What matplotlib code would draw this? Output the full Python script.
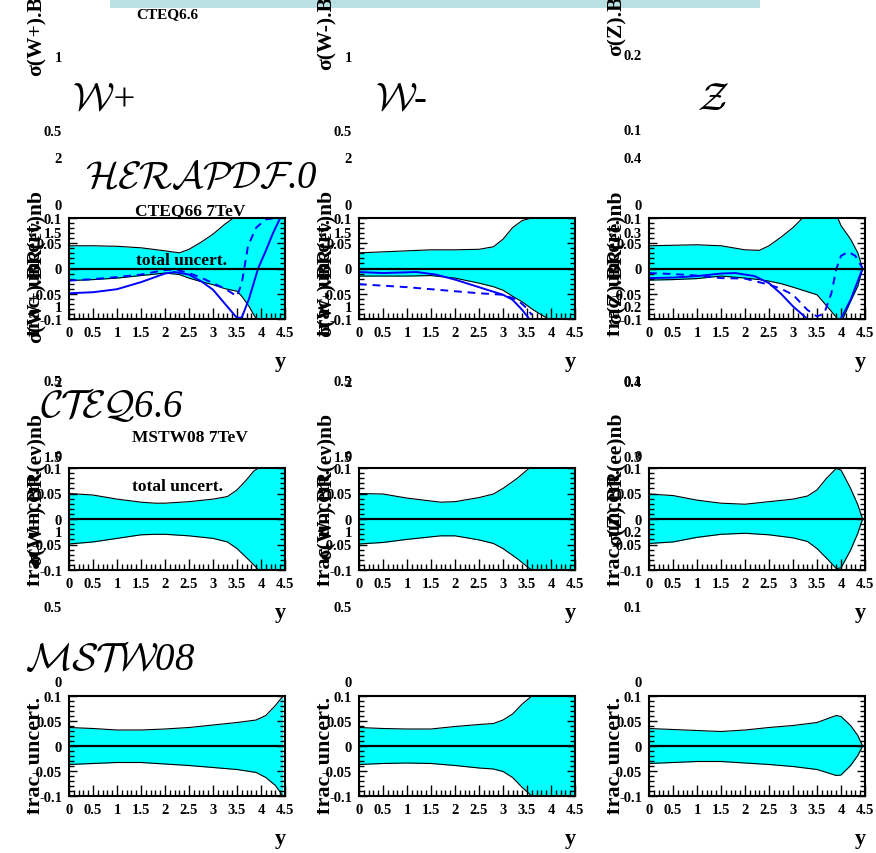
# PDF uncertainty bands on W+, W- and Z rapidity distributions at 7 TeV

import numpy as np
import matplotlib.pyplot as plt
from matplotlib.patches import Rectangle
from matplotlib.transforms import Bbox
from matplotlib.ticker import MultipleLocator, FormatStrFormatter

W, H = 876, 854                                        # canvas size in pixels

plt.rcParams['font.family'] = ['Liberation Serif', 'DejaVu Serif']
plt.rcParams['font.weight'] = 'bold'
plt.rcParams['mathtext.fontset'] = 'cm'
plt.rcParams['axes.unicode_minus'] = False

# ---- CTEQ66 band and two eigenvector curves
cteq_wp_y  = [0, 0.5, 1, 1.5, 2, 2.3, 2.5, 2.75, 3, 3.25, 3.5, 3.6, 3.75, 3.9, 4.1, 4.5]
cteq_wp_up = [0.045, 0.045, 0.044, 0.041, 0.035, 0.031, 0.038, 0.052, 0.068, 0.088, 0.105, 0.11, 0.12, 0.13, 0.14, 0.15]
cteq_wp_dn = [-0.024, -0.022, -0.019, -0.014, -0.009, -0.012, -0.019, -0.026, -0.032, -0.040, -0.045, -0.055, -0.075, -0.1, -0.13, -0.17]
cteq_wp_s_y = [0, 0.5, 1, 1.5, 2, 2.2, 2.5, 2.75, 3, 3.25, 3.5, 3.6, 3.75, 3.94, 4.1, 4.25, 4.4]
cteq_wp_s   = [-0.049, -0.047, -0.041, -0.027, -0.010, -0.007, -0.012, -0.025, -0.042, -0.070, -0.098, -0.097, -0.060, 0.0, 0.035, 0.070, 0.1]
cteq_wp_d_y = [0, 0.5, 1, 1.5, 2, 2.2, 2.5, 2.75, 3, 3.25, 3.5, 3.6, 3.73, 3.9, 4.1, 4.3]
cteq_wp_d   = [-0.024, -0.021, -0.017, -0.012, -0.003, -0.002, -0.009, -0.018, -0.029, -0.040, -0.055, -0.029, 0.045, 0.081, 0.097, 0.1]

cteq_wm_y  = [0, 0.5, 1, 1.5, 2, 2.5, 2.8, 3, 3.2, 3.4, 3.6, 3.75, 3.95, 4.5]
cteq_wm_up = [0.031, 0.033, 0.035, 0.037, 0.037, 0.038, 0.043, 0.058, 0.081, 0.095, 0.1, 0.11, 0.12, 0.13]
cteq_wm_dn = [-0.015, -0.015, -0.015, -0.014, -0.019, -0.029, -0.036, -0.043, -0.055, -0.066, -0.080, -0.089, -0.1, -0.14]
cteq_wm_s_y = [0, 0.5, 1.2, 1.6, 2, 2.5, 3, 3.2, 3.4, 3.55]
cteq_wm_s   = [-0.007, -0.009, -0.007, -0.012, -0.022, -0.037, -0.052, -0.062, -0.082, -0.1]
cteq_wm_d_y = [0, 1, 2, 2.5, 3, 3.3, 3.5, 3.6]
cteq_wm_d   = [-0.031, -0.037, -0.045, -0.049, -0.052, -0.062, -0.079, -0.092]

cteq_z_y  = [0, 0.5, 1, 1.5, 2, 2.3, 2.5, 2.75, 3, 3.2, 3.5, 3.8, 4.0, 4.2, 4.35, 4.45]
cteq_z_up = [0.045, 0.046, 0.047, 0.045, 0.037, 0.036, 0.045, 0.062, 0.081, 0.1, 0.13, 0.13, 0.085, 0.058, 0.031, 0.0]
cteq_z_dn = [-0.023, -0.022, -0.020, -0.015, -0.019, -0.022, -0.025, -0.030, -0.037, -0.043, -0.052, -0.085, -0.108, -0.065, -0.035, 0.0]
cteq_z_s_y = [0, 0.5, 1, 1.5, 1.8, 2.2, 2.5, 2.75, 3, 3.3, 3.6, 3.9, 4.0, 4.2, 4.45]
cteq_z_s   = [-0.019, -0.018, -0.015, -0.010, -0.009, -0.015, -0.029, -0.050, -0.075, -0.1, -0.12, -0.11, -0.099, -0.062, 0.0]
cteq_z_d_y = [0, 0.5, 1, 1.5, 2, 2.5, 2.75, 3, 3.3, 3.5, 3.65, 3.8, 3.9, 4.0, 4.15, 4.3, 4.45]
cteq_z_d   = [-0.009, -0.011, -0.014, -0.019, -0.020, -0.032, -0.040, -0.052, -0.082, -0.095, -0.089, -0.049, -0.002, 0.025, 0.033, 0.025, 0.0]

# ---- MSTW08 band
mstw_wp_y  = [0, 0.5, 1, 1.5, 1.8, 2, 2.5, 3, 3.3, 3.5, 3.7, 3.85, 3.95, 4.5]
mstw_wp_up = [0.050, 0.047, 0.039, 0.033, 0.031, 0.031, 0.034, 0.039, 0.044, 0.057, 0.077, 0.094, 0.1, 0.14]
mstw_wp_dn = [-0.049, -0.045, -0.038, -0.031, -0.030, -0.030, -0.033, -0.038, -0.045, -0.058, -0.076, -0.090, -0.1, -0.14]

mstw_wm_y  = [0, 0.5, 1, 1.7, 2, 2.5, 2.8, 3, 3.3, 3.55, 3.6, 4.5]
mstw_wm_up = [0.050, 0.049, 0.041, 0.033, 0.034, 0.042, 0.049, 0.060, 0.080, 0.1, 0.103, 0.14]
mstw_wm_dn = [-0.049, -0.046, -0.040, -0.033, -0.033, -0.041, -0.048, -0.058, -0.078, -0.097, -0.1, -0.14]

mstw_z_y  = [0, 0.5, 1, 1.5, 2, 2.5, 3, 3.3, 3.5, 3.7, 3.9, 4.0, 4.2, 4.35, 4.45]
mstw_z_up = [0.049, 0.046, 0.037, 0.031, 0.029, 0.034, 0.039, 0.045, 0.057, 0.080, 0.099, 0.096, 0.060, 0.028, 0.0]
mstw_z_dn = [-0.048, -0.045, -0.036, -0.030, -0.028, -0.031, -0.037, -0.044, -0.058, -0.077, -0.097, -0.096, -0.061, -0.028, 0.0]

# ---- HERAPDF band
hera_wp_y  = [0, 0.5, 1, 1.5, 2, 2.5, 3, 3.5, 3.9, 4.1, 4.3, 4.45]
hera_wp_up = [0.037, 0.035, 0.032, 0.032, 0.034, 0.037, 0.042, 0.047, 0.052, 0.061, 0.081, 0.099]
hera_wp_dn = [-0.037, -0.035, -0.033, -0.033, -0.036, -0.039, -0.043, -0.047, -0.053, -0.063, -0.079, -0.099]

hera_wm_y  = [0, 0.5, 1, 1.5, 2, 2.5, 2.8, 3, 3.2, 3.4, 3.6, 4.5]
hera_wm_up = [0.037, 0.035, 0.034, 0.034, 0.039, 0.043, 0.045, 0.052, 0.064, 0.084, 0.1, 0.13]
hera_wm_dn = [-0.037, -0.035, -0.034, -0.035, -0.039, -0.044, -0.046, -0.051, -0.063, -0.083, -0.1, -0.13]

hera_z_y  = [0, 0.5, 1, 1.5, 2, 2.5, 3, 3.5, 3.7, 3.9, 4.0, 4.2, 4.35, 4.45]
hera_z_up = [0.035, 0.033, 0.031, 0.029, 0.032, 0.037, 0.041, 0.047, 0.054, 0.061, 0.059, 0.041, 0.021, 0.0]
hera_z_dn = [-0.035, -0.033, -0.031, -0.031, -0.034, -0.037, -0.041, -0.047, -0.053, -0.059, -0.058, -0.039, -0.019, 0.0]

bands = [
    [(cteq_wp_y, cteq_wp_up, cteq_wp_dn), (cteq_wm_y, cteq_wm_up, cteq_wm_dn), (cteq_z_y, cteq_z_up, cteq_z_dn)],
    [(mstw_wp_y, mstw_wp_up, mstw_wp_dn), (mstw_wm_y, mstw_wm_up, mstw_wm_dn), (mstw_z_y, mstw_z_up, mstw_z_dn)],
    [(hera_wp_y, hera_wp_up, hera_wp_dn), (hera_wm_y, hera_wm_up, hera_wm_dn), (hera_z_y, hera_z_up, hera_z_dn)],
]
cteq_curves = [
    ((cteq_wp_s_y, cteq_wp_s), (cteq_wp_d_y, cteq_wp_d)),
    ((cteq_wm_s_y, cteq_wm_s), (cteq_wm_d_y, cteq_wm_d)),
    ((cteq_z_s_y, cteq_z_s), (cteq_z_d_y, cteq_z_d)),
]

# cross section pads underneath (only their axis labels show through)
xsec_titles = ['\u03c3(W+).BR(e\u03bd)nb', '\u03c3(W-).BR(e\u03bd)nb', '\u03c3(Z).BR(ee)nb']
xsec_ticks_w = [[0, 0.5, 1], [0, 0.5, 1, 1.5, 2], [0, 0.5, 1, 1.5, 2]]
xsec_ticks_z = [[0, 0.1, 0.2], [0, 0.1, 0.2, 0.3, 0.4], [0, 0.1, 0.2, 0.3, 0.4]]

boson_names = [r'$\mathcal{W}$+', r'$\mathcal{W}$-', r'$\mathcal{Z}$']

col_x = [69, 359, 649]                                 # pad left edges (px)
row_y = [(219, 320), (469, 571), (697, 797)]           # axis top/bottom (px)
ax_w = 216


def box(x0, y0, x1, y1):
    # pixel rectangle, origin top-left -> figure fraction
    return [x0 / W, 1 - y1 / H, (x1 - x0) / W, (y1 - y0) / H]


fig = plt.figure(figsize=(W / 100, H / 100), dpi=100)


def ftext(x, y, s, **kw):
    return fig.text(x / W, 1 - y / H, s, **kw)


# leftover legend strip at top
fig.patches.append(Rectangle((110 / W, 1 - 9 / H), 650 / W, 9 / H,
                             transform=fig.transFigure, color='#b9e0e2', lw=0))
ftext(167, 15, 'CTEQ6.6', ha='center', va='center', fontsize=11)

# hidden cross section axes: only tick labels visible
xsec_pix = [(57, 205), (158, 456), (382, 682)]
for c in range(3):
    ticks = xsec_ticks_z if c == 2 else xsec_ticks_w
    for k, (yt, yb) in enumerate(xsec_pix):
        if c == 2 and k == 0:
            yt = 55
        hx = fig.add_axes(box(col_x[c], yt, col_x[c] + ax_w, yb))
        hx.patch.set_visible(False)
        for s in hx.spines.values():
            s.set_visible(False)
        hx.set_ylim(ticks[k][0], ticks[k][-1])
        hx.set_yticks(ticks[k])
        hx.yaxis.set_major_formatter(FormatStrFormatter('%g'))
        hx.set_xticks([])
        hx.tick_params(axis='y', length=0, pad=5, labelsize=10.5)

# rotated y titles of the hidden pads
clip_x = [27, 317, 607]
for c in range(3):
    for ytop in (-77, 190, 413):
        t = ftext(clip_x[c] + 9, ytop, xsec_titles[c], rotation=90,
                  ha='center', va='top', fontsize=15.5)
        t.set_clip_box(Bbox([[clip_x[c], 0], [W, H]]))
        t.set_clip_on(True)

for r, (yt, yb) in enumerate(row_y):
    for c in range(3):
        ax = fig.add_axes(box(col_x[c], yt, col_x[c] + ax_w, yb))
        y, up, dn = bands[r][c]
        ax.fill_between(y, dn, up, color='#00ffff', lw=0)
        ax.plot(y, up, color='k', lw=0.8)
        ax.plot(y, dn, color='k', lw=0.8)
        if r == 0:
            (ys, vs), (yd, vd) = cteq_curves[c]
            ax.plot(ys, vs, color='#0000ff', lw=1.4)
            ax.plot(yd, vd, color='#0000ff', lw=1.4, ls=(0, (4, 3)))
        ax.axhline(0, color='k', lw=1.6)
        ax.set_xlim(0, 4.5)
        ax.set_ylim(-0.1, 0.1)
        ax.xaxis.set_major_locator(MultipleLocator(0.5))
        ax.xaxis.set_minor_locator(MultipleLocator(0.1))
        ax.yaxis.set_major_locator(MultipleLocator(0.05))
        ax.yaxis.set_minor_locator(MultipleLocator(0.01))
        ax.xaxis.set_major_formatter(FormatStrFormatter('%g'))
        ax.yaxis.set_major_formatter(FormatStrFormatter('%g'))
        ax.tick_params(which='both', direction='in', right=True, top=False, width=1)
        ax.tick_params(axis='x', which='major', length=8, pad=5, labelsize=10.5)
        ax.tick_params(axis='x', which='minor', length=4)
        ax.tick_params(axis='y', which='major', length=6, pad=5, labelsize=10.5)
        ax.tick_params(axis='y', which='minor', length=3.5)
        for s in ax.spines.values():
            s.set_linewidth(1.5)

        # axis titles, ROOT style
        ftext(col_x[c] + ax_w - 5, yb + 42, 'y', ha='center', va='center', fontsize=16)
        t = ftext(clip_x[c] + 8, yt, 'frac. uncert.', rotation=90,
                  ha='center', va='top', fontsize=16)
        t.set_clip_box(Bbox([[clip_x[c], 0], [W, H]]))
        t.set_clip_on(True)

ftext(190, 211, 'CTEQ66 7TeV', ha='center', va='center', fontsize=12.5)
ftext(182, 261, 'total uncert.', ha='center', va='center', fontsize=12.5)
ftext(190, 438, 'MSTW08 7TeV', ha='center', va='center', fontsize=12.5)
ftext(177, 487, 'total uncert.', ha='center', va='center', fontsize=12.5)

# boson and PDF set names
script = dict(fontsize=28, fontweight='normal', style='italic', va='center')
ftext(72, 100, boson_names[0], ha='left', **script)
ftext(375, 100, boson_names[1], ha='left', **script)
ftext(697, 100, boson_names[2], ha='left', **script)
ftext(85, 178, r'$\mathcal{HERAPDF}$.0', ha='left', **script)
ftext(40, 407, r'$\mathcal{CTEQ}$6.6', ha='left', **script)
ftext(25, 660, r'$\mathcal{MSTW}$08', ha='left', **script)

fig.savefig('out.png', dpi=100)
